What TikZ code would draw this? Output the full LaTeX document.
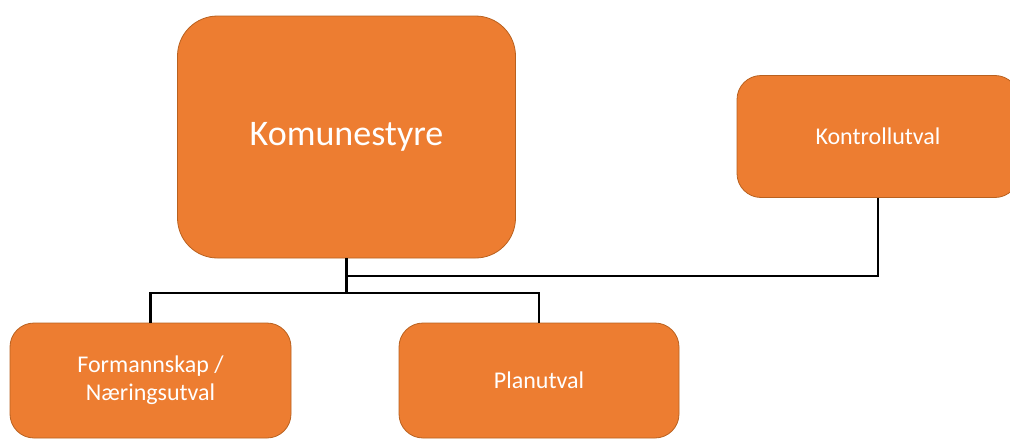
\documentclass[tikz,border=0pt]{standalone}
\usepackage{fontspec}
\setmainfont{Carlito}
\usetikzlibrary{positioning}
\definecolor{boxorange}{HTML}{ED7D31}
\definecolor{boxedge}{HTML}{B9611F}
\tikzset{unit/.style={draw=boxedge, fill=boxorange, text=white, rounded corners=24pt, line width=0.8pt, align=center, font=\fontsize{24}{28}\selectfont}}
\tikzset{link/.style={line width=2.6pt}}
\begin{document}
\begin{tikzpicture}[x=1pt,y=-1pt]
      \useasboundingbox (0,0) rectangle (1010,439);
      \node[unit, minimum width=338pt, minimum height=242pt, rounded corners=40pt, font=\fontsize{36}{40}\selectfont] (kom) at (346.5,137) {Komunestyre};
      \node[unit, minimum width=282pt, minimum height=122pt] (kon) at (878,136.5) {Kontrollutval};
      \node[unit, minimum width=281pt, minimum height=115pt] (form) at (150.5,380.5) {Formannskap /\\Næringsutval};
      \node[unit, minimum width=280pt, minimum height=115pt] (plan) at (539,380.5) {Planutval};
      \coordinate (j1) at (346.5,276);
      \coordinate (j2) at (346.5,293);
      \draw[link] (kom.south) -- (j2);
      \draw[link] (kon.south) |- (j1);
      \draw[link] (form.north) |- (j2) -| (plan.north);
    \end{tikzpicture}
\end{document}
